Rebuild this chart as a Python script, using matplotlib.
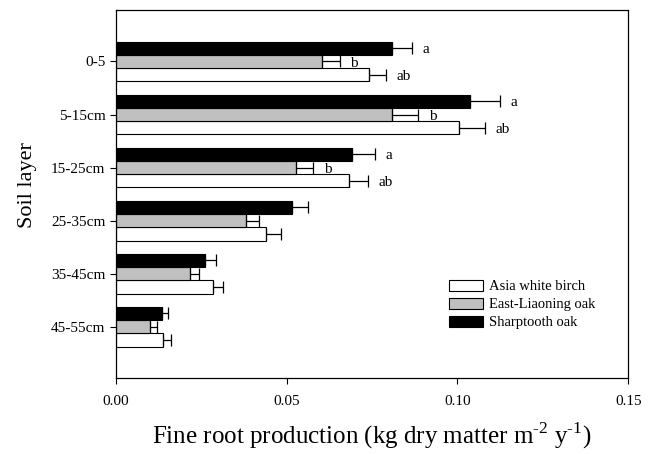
import numpy as np
import matplotlib
matplotlib.use("Agg")
import matplotlib.pyplot as plt

# данные
layers = ['0-5', '5-15cm', '15-25cm', '25-35cm', '35-45cm', '45-55cm']
species = ['Asia white birch', 'East-Liaoning oak', 'Sharptooth oak']
colors = ['white', '#c0c0c0', 'black']

birch = [0.0740, 0.1006, 0.0682, 0.0439, 0.0283, 0.0139]
birch_err = [0.0051, 0.0076, 0.0057, 0.0044, 0.0031, 0.0022]
liaoning = [0.0604, 0.0808, 0.0528, 0.0382, 0.0217, 0.0101]
liaoning_err = [0.0051, 0.0078, 0.0050, 0.0036, 0.0025, 0.0018]
sharptooth = [0.0807, 0.1037, 0.0692, 0.0516, 0.0262, 0.0135]
sharptooth_err = [0.0061, 0.0088, 0.0066, 0.0046, 0.0030, 0.0018]

letters = {
    'Asia white birch': ['ab', 'ab', 'ab', '', '', ''],
    'East-Liaoning oak': ['b', 'b', 'b', '', '', ''],
    'Sharptooth oak': ['a', 'a', 'a', '', '', ''],
}

plt.rcParams['font.family'] = ['Liberation Serif', 'DejaVu Serif']
plt.rcParams['mathtext.fontset'] = 'custom'
plt.rcParams['mathtext.rm'] = 'Liberation Serif'

fig = plt.figure(figsize=(6.51, 4.54), dpi=100)
ax = fig.add_axes([0.178, 0.167, 0.787, 0.811])

y = np.arange(len(layers))
h = 0.25
offsets = [h, 0, -h]
values = [birch, liaoning, sharptooth]
errors = [birch_err, liaoning_err, sharptooth_err]

for name, col, off, vals, errs in zip(species, colors, offsets, values, errors):
    ax.barh(y + off, vals, height=h, color=col, edgecolor='black',
            linewidth=0.8, label=name)
    ax.errorbar(vals, y + off, xerr=[np.zeros(len(vals)), errs], fmt='none',
                ecolor='black', elinewidth=0.9, capsize=4, capthick=0.9)
    for yi, v, e, t in zip(y + off, vals, errs, letters[name]):
        if t:
            ax.text(v + e + 0.003, yi + 0.03, t, va='center', ha='left', fontsize=11)

ax.set_xlim(0, 0.15)
ax.set_ylim(5.97, -0.97)
ax.set_xticks([0.0, 0.05, 0.10, 0.15])
ax.set_xticklabels(['0.00', '0.05', '0.10', '0.15'])
ax.set_yticks(y)
ax.set_yticklabels(layers)
ax.tick_params(axis='both', labelsize=11, direction='out', length=4, width=0.8)
ax.tick_params(axis='x', pad=8)
for s in ax.spines.values():
    s.set_linewidth(0.9)

ax.set_xlabel(r'Fine root production (kg dry matter m$^{\text{-2}}$ y$^{\text{-1}}$)',
              fontsize=18, labelpad=9)
ax.set_ylabel('Soil layer', fontsize=16)
ax.yaxis.set_label_coords(-0.154, 0.524)

ax.legend(loc='upper left', bbox_to_anchor=(0.628, 0.299), frameon=False,
          fontsize=10.5, handlelength=2.3, handleheight=0.8, labelspacing=0.3,
          handletextpad=0.45, borderpad=0.3)

fig.savefig('out.png', dpi=100)
